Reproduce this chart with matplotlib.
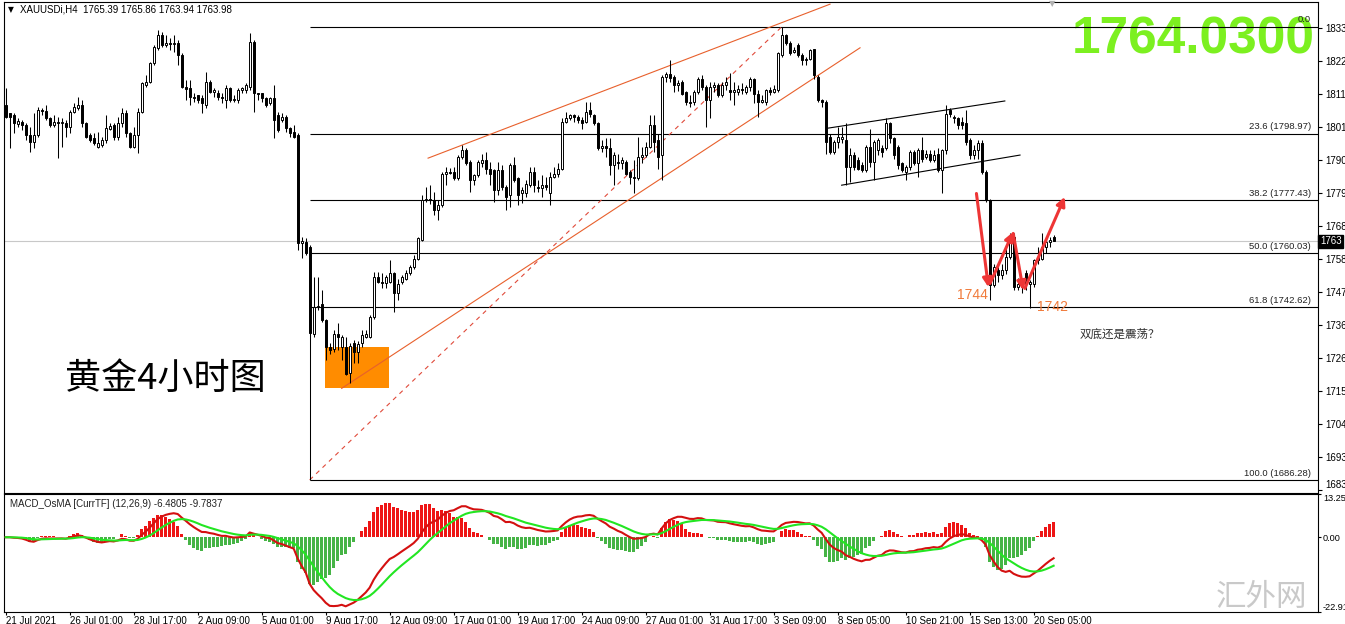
import numpy as np
import matplotlib
matplotlib.use("Agg")
import matplotlib.pyplot as plt
from matplotlib.patches import Rectangle
import matplotlib.transforms as mtransforms

plt.rcParams['font.family'] = ['Liberation Sans', 'Noto Sans CJK SC', 'DejaVu Sans']

# ---------------- data (XAUUSDi H4) ----------------
opens = [1808.2, 1805.6, 1805.0, 1802.0, 1802.7, 1801.7, 1798.5, 1796.2, 1798.5, 1806.6,
         1806.3, 1804.0, 1801.7, 1802.7, 1802.3, 1802.5, 1801.1, 1806.0, 1807.2, 1808.2,
         1802.4, 1798.5, 1797.5, 1794.6, 1795.2, 1796.8, 1800.4, 1801.7, 1797.8, 1802.4,
         1805.6, 1799.1, 1794.6, 1798.5, 1806.0, 1814.7, 1815.7, 1821.9, 1826.8, 1831.0,
         1827.8, 1828.4, 1828.0, 1828.4, 1824.5, 1814.1, 1813.8, 1810.8, 1811.5, 1810.5,
         1808.2, 1815.7, 1812.5, 1812.1, 1810.8, 1809.9, 1813.8, 1809.9, 1809.9, 1813.1,
         1813.1, 1814.1, 1828.7, 1812.1, 1812.1, 1810.5, 1808.9, 1810.5, 1805.0, 1803.4,
         1804.3, 1800.7, 1799.4, 1798.5, 1763.3, 1763.6, 1762.0, 1733.9, 1742.6, 1743.7,
         1738.3, 1729.6, 1729.0, 1733.9, 1729.6, 1729.6, 1721.0, 1730.7, 1728.0, 1730.7,
         1732.8, 1732.8, 1739.3, 1752.4, 1750.8, 1750.5, 1750.8, 1753.5, 1747.0, 1750.8,
         1751.8, 1753.5, 1755.6, 1758.3, 1764.3, 1777.3, 1777.8, 1777.3, 1774.1, 1775.7,
         1786.0, 1786.4, 1786.5, 1784.4, 1791.4, 1793.6, 1789.8, 1783.8, 1785.5, 1789.3,
         1790.3, 1787.6, 1787.1, 1780.6, 1787.1, 1781.7, 1779.0, 1788.7, 1784.4, 1779.5,
         1779.5, 1782.2, 1786.5, 1781.7, 1781.2, 1782.2, 1779.5, 1784.9, 1786.0, 1787.6,
         1802.8, 1803.9, 1805.0, 1804.4, 1803.4, 1802.8, 1806.6, 1805.0, 1802.3, 1794.2,
         1794.9, 1794.2, 1788.7, 1789.7, 1789.4, 1789.8, 1786.5, 1784.9, 1784.6, 1791.4,
         1792.0, 1794.7, 1801.7, 1796.8, 1792.0, 1817.4, 1818.5, 1817.4, 1814.8, 1815.8,
         1812.6, 1809.3, 1809.3, 1812.6, 1816.9, 1814.2, 1809.9, 1814.2, 1814.8, 1811.5,
         1814.8, 1813.1, 1812.6, 1812.6, 1813.6, 1812.6, 1814.2, 1816.9, 1812.0, 1809.3,
         1809.3, 1813.1, 1812.6, 1813.1, 1824.5, 1831.0, 1828.3, 1825.6, 1827.8, 1824.5,
         1822.9, 1823.4, 1826.4, 1817.4, 1809.9, 1809.3, 1797.9, 1793.0, 1796.3, 1797.2,
         1796.8, 1788.2, 1792.0, 1790.3, 1788.7, 1787.1, 1794.7, 1789.8, 1793.6, 1794.2,
         1794.2, 1802.3, 1797.4, 1794.7, 1789.3, 1786.5, 1788.2, 1793.0, 1789.3, 1793.6,
         1791.4, 1792.5, 1790.3, 1792.5, 1787.1, 1793.6, 1806.6, 1804.4, 1803.9, 1802.8,
         1802.3, 1796.8, 1792.0, 1793.6, 1795.8, 1786.5, 1777.3, 1749.7, 1754.5, 1752.9,
         1754.5, 1758.9, 1765.4, 1749.1, 1750.8, 1753.5, 1750.2, 1750.2, 1757.8, 1758.3,
         1762.2, 1763.8, 1765.39]
highs = [1813.8, 1805.8, 1805.6, 1804.0, 1803.4, 1802.4, 1801.1, 1805.6, 1807.6, 1807.3,
         1808.2, 1804.3, 1805.0, 1804.3, 1804.0, 1803.4, 1806.6, 1808.9, 1810.8, 1809.9,
         1802.7, 1799.1, 1799.1, 1799.4, 1797.8, 1805.0, 1802.4, 1802.4, 1804.3, 1807.3,
         1806.6, 1799.4, 1801.1, 1807.3, 1815.7, 1818.0, 1822.2, 1827.8, 1832.6, 1832.0,
         1831.0, 1830.0, 1831.0, 1829.4, 1825.2, 1816.4, 1816.4, 1812.1, 1811.5, 1811.5,
         1819.0, 1816.4, 1813.8, 1813.1, 1812.1, 1814.7, 1814.1, 1811.5, 1813.8, 1814.1,
         1815.4, 1831.7, 1829.4, 1812.1, 1812.1, 1810.8, 1810.8, 1814.7, 1806.0, 1805.6,
         1805.0, 1801.1, 1801.7, 1799.1, 1765.3, 1764.9, 1762.7, 1752.4, 1752.4, 1748.0,
         1738.8, 1730.7, 1735.0, 1737.2, 1733.4, 1732.8, 1731.0, 1731.8, 1731.5, 1735.0,
         1735.0, 1739.9, 1754.0, 1754.0, 1753.5, 1753.0, 1757.8, 1753.8, 1751.8, 1753.0,
         1754.5, 1756.3, 1759.4, 1765.4, 1778.9, 1781.6, 1782.2, 1780.0, 1777.3, 1786.5,
         1788.2, 1787.9, 1788.2, 1792.0, 1795.2, 1794.2, 1790.4, 1786.0, 1790.4, 1792.5,
         1793.0, 1789.8, 1787.6, 1789.8, 1788.7, 1782.2, 1789.3, 1791.4, 1784.9, 1781.6,
         1783.8, 1788.2, 1788.2, 1783.8, 1785.4, 1784.9, 1786.5, 1788.2, 1789.3, 1804.0,
         1806.1, 1805.5, 1805.5, 1805.0, 1804.4, 1809.3, 1809.3, 1805.5, 1802.8, 1796.8,
         1797.4, 1797.4, 1793.0, 1792.5, 1791.4, 1790.3, 1787.1, 1790.3, 1797.9, 1794.7,
         1796.3, 1805.0, 1805.0, 1799.0, 1818.0, 1819.1, 1822.9, 1818.0, 1816.3, 1816.3,
         1812.9, 1811.5, 1813.1, 1817.4, 1818.0, 1814.8, 1815.8, 1815.8, 1815.3, 1815.8,
         1817.4, 1818.6, 1815.8, 1814.8, 1815.3, 1814.8, 1817.4, 1817.2, 1813.1, 1811.5,
         1813.6, 1814.2, 1814.8, 1825.6, 1833.7, 1831.5, 1829.0, 1827.3, 1828.3, 1825.1,
         1824.0, 1826.6, 1826.6, 1818.0, 1810.4, 1809.9, 1799.0, 1796.8, 1801.2, 1801.2,
         1802.3, 1794.2, 1793.0, 1791.4, 1789.8, 1795.2, 1800.6, 1796.8, 1797.4, 1795.2,
         1803.9, 1802.8, 1797.9, 1795.2, 1789.8, 1788.7, 1793.6, 1793.6, 1794.2, 1797.9,
         1793.6, 1793.6, 1793.6, 1794.2, 1794.0, 1808.2, 1807.2, 1804.9, 1804.4, 1804.4,
         1806.6, 1797.4, 1795.2, 1796.8, 1796.8, 1787.1, 1777.8, 1756.7, 1755.6, 1756.7,
         1761.6, 1766.5, 1766.5, 1752.0, 1751.5, 1754.5, 1751.5, 1758.3, 1762.2, 1766.5,
         1765.4, 1765.4, 1765.86]
lows = [1804.0, 1794.2, 1799.1, 1801.1, 1800.1, 1796.8, 1792.9, 1794.2, 1797.8, 1805.0,
        1803.4, 1801.1, 1801.1, 1791.0, 1794.6, 1797.8, 1799.1, 1805.6, 1806.6, 1801.1,
        1797.5, 1796.2, 1795.2, 1794.2, 1794.6, 1795.9, 1800.1, 1796.8, 1796.8, 1801.1,
        1797.8, 1794.2, 1794.2, 1792.6, 1805.6, 1814.1, 1815.4, 1821.2, 1826.1, 1827.1,
        1827.1, 1826.1, 1825.5, 1821.2, 1813.8, 1809.9, 1808.2, 1809.2, 1808.9, 1805.6,
        1807.3, 1812.1, 1810.8, 1809.9, 1808.9, 1807.3, 1809.2, 1809.2, 1808.9, 1812.1,
        1812.1, 1813.1, 1806.0, 1809.9, 1809.2, 1807.6, 1808.2, 1797.5, 1799.4, 1802.7,
        1799.4, 1797.8, 1797.5, 1761.0, 1758.4, 1759.4, 1686.3, 1732.8, 1741.5, 1737.7,
        1725.3, 1727.4, 1728.0, 1728.5, 1725.3, 1720.4, 1717.7, 1724.2, 1724.5, 1729.6,
        1732.5, 1732.5, 1738.8, 1750.5, 1748.6, 1748.6, 1750.5, 1741.0, 1744.8, 1750.2,
        1751.2, 1752.9, 1755.0, 1757.8, 1764.0, 1776.8, 1776.2, 1772.4, 1770.8, 1775.0,
        1782.2, 1785.9, 1783.8, 1783.8, 1790.8, 1788.7, 1780.0, 1782.2, 1784.9, 1788.2,
        1786.0, 1782.2, 1776.8, 1779.0, 1780.6, 1774.1, 1775.2, 1783.3, 1775.7, 1776.3,
        1778.4, 1781.7, 1780.0, 1780.0, 1778.4, 1780.6, 1775.7, 1784.4, 1784.9, 1787.1,
        1802.3, 1803.4, 1802.8, 1802.3, 1800.6, 1802.3, 1804.4, 1801.8, 1793.6, 1793.0,
        1791.4, 1785.5, 1782.2, 1787.6, 1787.6, 1785.5, 1782.7, 1779.5, 1783.8, 1789.3,
        1791.4, 1794.2, 1793.0, 1787.6, 1783.8, 1815.8, 1815.8, 1812.6, 1812.9, 1811.5,
        1808.2, 1807.7, 1808.2, 1812.0, 1813.1, 1801.2, 1803.9, 1812.6, 1811.0, 1811.0,
        1813.1, 1809.9, 1808.2, 1811.5, 1812.0, 1812.0, 1812.9, 1808.8, 1804.4, 1808.8,
        1808.2, 1811.5, 1812.3, 1812.6, 1824.0, 1827.8, 1824.5, 1825.1, 1824.0, 1821.2,
        1821.2, 1822.9, 1816.9, 1809.3, 1807.7, 1792.5, 1792.5, 1792.5, 1794.2, 1795.8,
        1782.2, 1783.3, 1787.1, 1787.1, 1786.5, 1786.5, 1788.2, 1783.8, 1792.0, 1791.4,
        1793.6, 1795.8, 1790.8, 1787.6, 1786.5, 1783.8, 1787.1, 1788.7, 1784.9, 1789.8,
        1790.8, 1789.8, 1789.8, 1786.5, 1779.5, 1792.5, 1804.4, 1802.3, 1800.6, 1800.6,
        1795.2, 1790.8, 1790.8, 1790.8, 1786.0, 1776.8, 1744.8, 1749.0, 1750.8, 1751.8,
        1753.4, 1758.3, 1748.0, 1748.0, 1747.0, 1748.0, 1742.1, 1749.0, 1756.7, 1757.8,
        1760.0, 1762.2, 1763.94]
closes = [1804.3, 1804.3, 1802.4, 1803.0, 1801.7, 1798.5, 1796.2, 1798.5, 1806.6, 1806.2,
          1804.0, 1801.7, 1802.7, 1802.3, 1802.5, 1801.1, 1806.0, 1807.6, 1808.2, 1802.4,
          1797.8, 1796.8, 1795.9, 1795.9, 1796.8, 1800.7, 1801.4, 1797.8, 1802.4, 1805.6,
          1799.1, 1794.6, 1798.5, 1806.0, 1815.4, 1815.7, 1821.9, 1827.1, 1831.0, 1827.8,
          1828.4, 1828.0, 1828.4, 1824.5, 1814.1, 1813.6, 1810.8, 1810.5, 1809.9, 1808.9,
          1815.7, 1812.5, 1813.1, 1810.8, 1810.5, 1813.8, 1809.9, 1810.2, 1813.1, 1813.8,
          1814.7, 1828.7, 1812.1, 1811.8, 1810.5, 1808.2, 1810.5, 1803.4, 1800.1, 1804.3,
          1800.7, 1799.1, 1797.8, 1763.3, 1763.9, 1760.1, 1734.0, 1742.6, 1742.9, 1738.3,
          1729.6, 1728.5, 1733.9, 1732.8, 1732.8, 1720.9, 1729.8, 1728.0, 1730.5, 1733.4,
          1733.9, 1739.3, 1752.4, 1750.8, 1750.5, 1752.4, 1753.5, 1747.0, 1750.2, 1752.4,
          1753.5, 1755.6, 1758.3, 1764.9, 1777.3, 1777.8, 1777.3, 1774.1, 1775.7, 1786.0,
          1786.4, 1786.2, 1784.4, 1791.4, 1793.6, 1789.3, 1783.8, 1785.5, 1789.8, 1790.3,
          1787.6, 1786.0, 1780.6, 1787.1, 1781.7, 1778.4, 1788.7, 1783.8, 1779.0, 1780.6,
          1782.7, 1786.5, 1782.2, 1781.2, 1782.2, 1781.7, 1784.9, 1786.0, 1787.6, 1802.7,
          1803.9, 1805.0, 1804.4, 1803.4, 1802.3, 1806.1, 1805.5, 1802.3, 1794.2, 1794.9,
          1794.2, 1788.7, 1792.0, 1789.4, 1790.3, 1786.0, 1784.9, 1784.6, 1791.4, 1792.0,
          1794.7, 1801.7, 1796.3, 1791.4, 1817.4, 1818.5, 1817.2, 1814.8, 1815.5, 1812.0,
          1809.3, 1809.0, 1812.6, 1816.9, 1814.2, 1809.9, 1814.2, 1814.8, 1811.5, 1814.8,
          1815.8, 1812.6, 1813.1, 1813.6, 1813.1, 1814.2, 1816.9, 1812.0, 1809.3, 1809.9,
          1813.1, 1812.6, 1813.6, 1825.1, 1831.0, 1828.3, 1825.1, 1826.1, 1824.5, 1822.9,
          1823.1, 1826.1, 1818.0, 1809.9, 1809.3, 1796.3, 1793.0, 1796.3, 1797.9, 1797.9,
          1788.2, 1792.0, 1788.2, 1787.6, 1787.1, 1794.7, 1789.8, 1796.3, 1796.8, 1793.0,
          1802.3, 1797.4, 1792.0, 1788.7, 1787.1, 1788.2, 1793.0, 1789.3, 1793.6, 1790.8,
          1792.5, 1790.3, 1792.0, 1787.1, 1793.6, 1805.5, 1805.5, 1803.9, 1801.7, 1801.7,
          1796.3, 1792.0, 1793.6, 1795.8, 1786.5, 1777.3, 1749.7, 1755.6, 1752.9, 1754.5,
          1758.9, 1765.4, 1749.1, 1750.0, 1749.1, 1750.2, 1750.8, 1757.8, 1758.9, 1762.2,
          1763.8, 1764.3, 1763.98]

date_labels = ['21 Jul 2021', '26 Jul 01:00', '28 Jul 17:00', '2 Aug 09:00', '5 Aug 01:00',
               '9 Aug 17:00', '12 Aug 09:00', '17 Aug 01:00', '19 Aug 17:00', '24 Aug 09:00',
               '27 Aug 01:00', '31 Aug 17:00', '3 Sep 09:00', '8 Sep 05:00', '10 Sep 21:00',
               '15 Sep 13:00', '20 Sep 05:00']
date_ticks = [0, 16, 32, 48, 64, 80, 96, 112, 128, 144, 160, 176, 192, 208, 225, 241, 257]

price_ticks = [1683.0, 1693.7, 1704.5, 1715.2, 1726.0, 1736.7, 1747.4, 1758.2, 1768.9,
               1779.7, 1790.4, 1801.1, 1811.9, 1822.6, 1833.4]
price_labels = ['1683', '1693', '1704', '1715', '1726', '1736', '1747', '1758', '1768',
                '1779', '1790', '1801', '1811', '1822', '1833']

fib_levels = [0.0, 23.6, 38.2, 50.0, 61.8, 100.0]
fib_prices = [1833.78, 1798.97, 1777.43, 1760.03, 1742.62, 1686.28]
fib_anchor_bar = 76

macd_ticks = [13.25, 0.0, -22.91]
macd_labels = ['13.25', '0.00', '-22.91']

# drawn objects (bar index, price)
upper_trend = [(105.6, 1791.0), (206.1, 1841.1)]
lower_trend = [(84.0, 1716.1), (213.6, 1826.9)]
dashed_trend = [(76.0, 1686.3), (194.0, 1833.7)]
chan_upper = [(205.3, 1800.7), (249.8, 1809.6)]
chan_lower = [(209.0, 1782.2), (253.6, 1792.0)]
box = [(79.8, 1716.2), (95.8, 1729.6)]
arrows = [((242.7, 1779.5), (245.7, 1749.0)),
          ((246.1, 1750.2), (251.9, 1767.0)),
          ((251.9, 1766.5), (254.4, 1748.0)),
          ((254.8, 1748.6), (264.8, 1778.4))]

# ---------------- figure ----------------
W, H = 1345, 624
fig = plt.figure(figsize=(W / 100, H / 100), dpi=100)
fig.patch.set_facecolor('white')

def rect(l, t, r, b):
    return [l / W, 1 - b / H, (r - l) / W, (b - t) / H]

ax = fig.add_axes(rect(4, 2, 1318, 493))
ax2 = fig.add_axes(rect(4, 494, 1318, 612))

n = len(closes)
x = np.arange(n)
o = np.array(opens); h = np.array(highs); lo = np.array(lows); c = np.array(closes)
XL = (-0.43, 328.1)

for a in (ax, ax2):
    a.set_xlim(*XL)
    a.set_facecolor('white')
    for s in a.spines.values():
        s.set_color('black'); s.set_linewidth(0.8)

ax.set_ylim(1682.05, 1841.8)

# orange box (background)
ax.add_patch(Rectangle(box[0], box[1][0] - box[0][0], box[1][1] - box[0][1],
                       facecolor='#FF8C00', edgecolor='none', zorder=0.5))

# bid line
ax.axhline(c[-1], color='#C8C8C8', lw=0.8, zorder=0.8)

# big price text (under fib lines)
ax.text(0.9977, 0.922, '1764.0300', transform=ax.transAxes, ha='right', va='center',
        fontsize=37, fontweight='bold', color='#7CF020', zorder=0.9)

# fib lines
ax.hlines(fib_prices, fib_anchor_bar, XL[1], color='black', lw=0.8, zorder=1)
for lvl, p in zip(fib_levels, fib_prices):
    lab = f'{lvl:.1f}' if lvl == 0 else f'{lvl:.1f} ({p:.2f})'
    ax.text(326.4, p + 0.7, lab, ha='right', va='bottom', fontsize=6.8, color='#222222', zorder=2)

# trend lines
ax.plot(*zip(*upper_trend), color='#E8602C', lw=0.8, zorder=2)
ax.plot(*zip(*lower_trend), color='#E8602C', lw=0.8, zorder=2)
ax.plot(*zip(*dashed_trend), color='#E04A3A', lw=0.8, ls=(0, (4, 4)), zorder=2)
ax.plot(*zip(*chan_upper), color='black', lw=0.8, zorder=2)
ax.plot(*zip(*chan_lower), color='black', lw=0.8, zorder=2)

# candles
up = c >= o
ax.vlines(x, lo, h, color='black', lw=0.75, zorder=3)
bottoms = np.minimum(o, c)
heights = np.maximum(np.abs(c - o), 0.3)
ax.bar(x, heights, bottom=bottoms, width=0.55,
       color=np.where(up, 'white', 'black'), edgecolor='black', linewidth=0.7, zorder=4)

# red arrows
for (s, e) in arrows:
    ax.annotate('', xy=e, xytext=s,
                arrowprops=dict(arrowstyle='-|>', color='#EE3535', lw=2.2,
                                mutation_scale=13, shrinkA=0, shrinkB=0), zorder=5)

# annotations
ax.text(241.8, 1746.4, '1744', ha='center', va='center', fontsize=10, color='#F07A3A', zorder=6)
ax.text(261.8, 1742.5, '1742', ha='center', va='center', fontsize=10, color='#F07A3A', zorder=6)
ax.text(268.6, 1733.7, '双底还是震荡？', ha='left', va='center', fontsize=8.3,
        color='#303030', family=['Noto Sans CJK SC', 'DejaVu Sans'], zorder=6)
ax.text(39.8, 1719.1, '黄金4小时图', ha='center', va='center', fontsize=26,
        color='black', family=['Noto Sans CJK SC', 'DejaVu Sans'], zorder=6)

ax.text(0.003, 0.984, '▼', transform=ax.transAxes, ha='left', va='center', fontsize=5.5,
        family=['DejaVu Sans'], color='black')
ax.text(0.0125, 0.984, 'XAUUSDi,H4  1765.39 1765.86 1763.94 1763.98', transform=ax.transAxes,
        ha='left', va='center', fontsize=7, color='black')
ax.text((1052 - 4) / 1314, 0.997, '▼', transform=ax.transAxes, ha='center', va='center',
        fontsize=6, family=['DejaVu Sans'], color='#B0B0B0')

# right price axis
ax.yaxis.tick_right()
ax.set_yticks(price_ticks)
ax.set_yticklabels(price_labels)
ax.tick_params(axis='y', direction='out', length=3, width=0.8, labelsize=7, pad=2)
ax.set_xticks([])
ax.get_yticklabels()[0].set_va('bottom')

trans = mtransforms.blended_transform_factory(ax.transAxes, ax.transData)
ax.text(1.0015, c[-1], '1763', transform=trans, ha='left', va='center', fontsize=7,
        color='white', bbox=dict(facecolor='black', edgecolor='black', pad=1.2), zorder=7,
        clip_on=False)

# ---------------- MACD (12,26,9) from closes ----------------
def ema(a, period):
    alpha = 2.0 / (period + 1)
    out = np.empty_like(a)
    out[0] = a[0]
    for k in range(1, len(a)):
        out[k] = alpha * a[k] + (1 - alpha) * out[k - 1]
    return out

macd = ema(c, 12) - ema(c, 26)
signal = ema(macd, 9)
osma = 2 * (macd - signal)

ax2.set_ylim(-22.91, 13.25)
ax2.bar(x, osma, width=0.7, color=np.where(osma >= 0, '#EE1515', '#46B446'), zorder=2)
ax2.plot(x, macd, color='#D41010', lw=1.5, zorder=3)
ax2.plot(x, signal, color='#22E622', lw=1.5, zorder=4)
ax2.text(0.0045, 0.915, 'MACD_OsMA [CurrTF] (12,26,9) -6.4805 -9.7837', transform=ax2.transAxes,
         ha='left', va='center', fontsize=7, color='#222222')

ax2.yaxis.tick_right()
ax2.set_yticks(macd_ticks)
ax2.set_yticklabels(macd_labels)
ax2.tick_params(axis='y', direction='out', length=2.5, width=0.8, labelsize=6.6, pad=1)
ylabs = ax2.get_yticklabels()
ylabs[0].set_va('top')
ylabs[2].set_va('bottom')
ax2.set_xticks(date_ticks)
ax2.set_xticklabels(date_labels, ha='left')
ax2.tick_params(axis='x', direction='out', length=2.5, width=0.8, labelsize=7, pad=0.5)

# watermark
fig.text(1261 / W, 1 - 598 / H, '汇外网', ha='center', va='center', fontsize=22,
         color='#C4C4C4', family=['Noto Sans CJK SC', 'DejaVu Sans'], alpha=0.9)

fig.savefig('out.png', dpi=100, facecolor='white')
